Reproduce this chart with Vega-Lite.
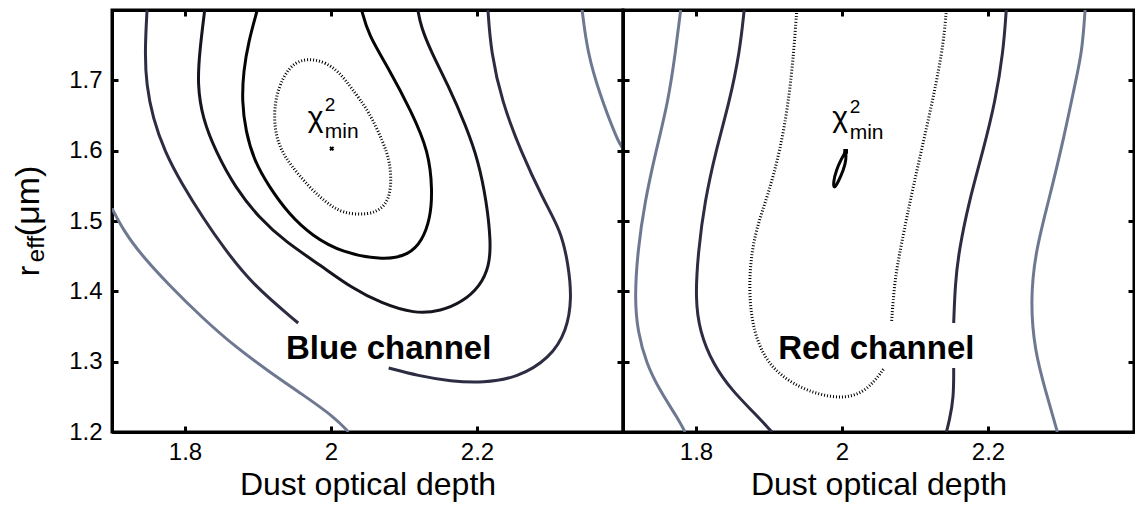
{
  "$schema": "https://vega.github.io/schema/vega-lite/v6.json",
  "background": "white",
  "padding": {"left": 10, "top": 7, "right": 2, "bottom": 2},
  "bounds": "flush",
  "spacing": 0,
  "config": {
    "font": "Liberation Sans",
    "view": {"stroke": "black", "strokeWidth": 3},
    "axis": {
      "domainColor": "black", "domainWidth": 3, "tickColor": "black", "tickWidth": 3, "tickSize": -6,
      "grid": false, "labelColor": "black", "titleColor": "black",
      "labelFont": "Liberation Sans", "titleFont": "Liberation Sans",
      "labelFontSize": 24, "titleFontSize": 32, "titleFontWeight": "normal"
    }
  },
  "datasets": {
    "lines": [
      {"p":"B","s":"g1","l":"L4","o":1,"x":1.70,"y":1.518},
      {"p":"B","s":"g1","l":"L4","o":2,"x":1.716,"y":1.486},
      {"p":"B","s":"g1","l":"L4","o":3,"x":1.740,"y":1.452},
      {"p":"B","s":"g1","l":"L4","o":4,"x":1.779,"y":1.408},
      {"p":"B","s":"g1","l":"L4","o":5,"x":1.824,"y":1.362},
      {"p":"B","s":"g1","l":"L4","o":6,"x":1.869,"y":1.321},
      {"p":"B","s":"g1","l":"L4","o":7,"x":1.915,"y":1.286},
      {"p":"B","s":"g1","l":"L4","o":8,"x":1.960,"y":1.254},
      {"p":"B","s":"g1","l":"L4","o":9,"x":2.005,"y":1.221},
      {"p":"B","s":"g1","l":"L4","o":10,"x":2.024,"y":1.200},
      {"p":"B","s":"g2","l":"L4","o":1,"x":2.344,"y":1.80},
      {"p":"B","s":"g2","l":"L4","o":2,"x":2.351,"y":1.741},
      {"p":"B","s":"g2","l":"L4","o":3,"x":2.368,"y":1.680},
      {"p":"B","s":"g2","l":"L4","o":4,"x":2.393,"y":1.613},
      {"p":"B","s":"g2","l":"L4","o":5,"x":2.40,"y":1.603},
      {"p":"B","s":"c2a","l":"L3","o":1,"x":1.748,"y":1.80},
      {"p":"B","s":"c2a","l":"L3","o":2,"x":1.745,"y":1.741},
      {"p":"B","s":"c2a","l":"L3","o":3,"x":1.747,"y":1.694},
      {"p":"B","s":"c2a","l":"L3","o":4,"x":1.756,"y":1.646},
      {"p":"B","s":"c2a","l":"L3","o":5,"x":1.772,"y":1.599},
      {"p":"B","s":"c2a","l":"L3","o":6,"x":1.796,"y":1.552},
      {"p":"B","s":"c2a","l":"L3","o":7,"x":1.825,"y":1.504},
      {"p":"B","s":"c2a","l":"L3","o":8,"x":1.853,"y":1.462},
      {"p":"B","s":"c2a","l":"L3","o":9,"x":1.892,"y":1.410},
      {"p":"B","s":"c2a","l":"L3","o":10,"x":1.955,"y":1.355},
      {"p":"B","s":"c2b","l":"L3","o":1,"x":2.079,"y":1.291},
      {"p":"B","s":"c2b","l":"L3","o":2,"x":2.119,"y":1.280},
      {"p":"B","s":"c2b","l":"L3","o":3,"x":2.164,"y":1.272},
      {"p":"B","s":"c2b","l":"L3","o":4,"x":2.209,"y":1.270},
      {"p":"B","s":"c2b","l":"L3","o":5,"x":2.255,"y":1.277},
      {"p":"B","s":"c2b","l":"L3","o":6,"x":2.300,"y":1.305},
      {"p":"B","s":"c2b","l":"L3","o":7,"x":2.323,"y":1.344},
      {"p":"B","s":"c2b","l":"L3","o":8,"x":2.330,"y":1.390},
      {"p":"B","s":"c2b","l":"L3","o":9,"x":2.325,"y":1.439},
      {"p":"B","s":"c2b","l":"L3","o":10,"x":2.315,"y":1.486},
      {"p":"B","s":"c2b","l":"L3","o":11,"x":2.291,"y":1.530},
      {"p":"B","s":"c2b","l":"L3","o":12,"x":2.260,"y":1.599},
      {"p":"B","s":"c2b","l":"L3","o":13,"x":2.234,"y":1.670},
      {"p":"B","s":"c2b","l":"L3","o":14,"x":2.219,"y":1.741},
      {"p":"B","s":"c2b","l":"L3","o":15,"x":2.215,"y":1.80},
      {"p":"B","s":"c3","l":"L2","o":1,"x":1.827,"y":1.80},
      {"p":"B","s":"c3","l":"L2","o":2,"x":1.820,"y":1.741},
      {"p":"B","s":"c3","l":"L2","o":3,"x":1.817,"y":1.694},
      {"p":"B","s":"c3","l":"L2","o":4,"x":1.824,"y":1.646},
      {"p":"B","s":"c3","l":"L2","o":5,"x":1.842,"y":1.599},
      {"p":"B","s":"c3","l":"L2","o":6,"x":1.869,"y":1.547},
      {"p":"B","s":"c3","l":"L2","o":7,"x":1.902,"y":1.504},
      {"p":"B","s":"c3","l":"L2","o":8,"x":1.937,"y":1.471},
      {"p":"B","s":"c3","l":"L2","o":9,"x":1.987,"y":1.436},
      {"p":"B","s":"c3","l":"L2","o":10,"x":2.028,"y":1.405},
      {"p":"B","s":"c3","l":"L2","o":11,"x":2.069,"y":1.383},
      {"p":"B","s":"c3","l":"L2","o":12,"x":2.114,"y":1.368},
      {"p":"B","s":"c3","l":"L2","o":13,"x":2.151,"y":1.372},
      {"p":"B","s":"c3","l":"L2","o":14,"x":2.180,"y":1.385},
      {"p":"B","s":"c3","l":"L2","o":15,"x":2.204,"y":1.407},
      {"p":"B","s":"c3","l":"L2","o":16,"x":2.217,"y":1.436},
      {"p":"B","s":"c3","l":"L2","o":17,"x":2.219,"y":1.471},
      {"p":"B","s":"c3","l":"L2","o":18,"x":2.213,"y":1.528},
      {"p":"B","s":"c3","l":"L2","o":19,"x":2.202,"y":1.585},
      {"p":"B","s":"c3","l":"L2","o":20,"x":2.185,"y":1.635},
      {"p":"B","s":"c3","l":"L2","o":21,"x":2.160,"y":1.694},
      {"p":"B","s":"c3","l":"L2","o":22,"x":2.137,"y":1.741},
      {"p":"B","s":"c3","l":"L2","o":23,"x":2.123,"y":1.777},
      {"p":"B","s":"c3","l":"L2","o":24,"x":2.119,"y":1.80},
      {"p":"B","s":"c4","l":"L1","o":1,"x":1.899,"y":1.80},
      {"p":"B","s":"c4","l":"L1","o":2,"x":1.887,"y":1.755},
      {"p":"B","s":"c4","l":"L1","o":3,"x":1.880,"y":1.713},
      {"p":"B","s":"c4","l":"L1","o":4,"x":1.878,"y":1.670},
      {"p":"B","s":"c4","l":"L1","o":5,"x":1.883,"y":1.628},
      {"p":"B","s":"c4","l":"L1","o":6,"x":1.895,"y":1.585},
      {"p":"B","s":"c4","l":"L1","o":7,"x":1.915,"y":1.549},
      {"p":"B","s":"c4","l":"L1","o":8,"x":1.942,"y":1.510},
      {"p":"B","s":"c4","l":"L1","o":9,"x":1.974,"y":1.479},
      {"p":"B","s":"c4","l":"L1","o":10,"x":2.015,"y":1.455},
      {"p":"B","s":"c4","l":"L1","o":11,"x":2.073,"y":1.444},
      {"p":"B","s":"c4","l":"L1","o":12,"x":2.107,"y":1.452},
      {"p":"B","s":"c4","l":"L1","o":13,"x":2.125,"y":1.472},
      {"p":"B","s":"c4","l":"L1","o":14,"x":2.136,"y":1.504},
      {"p":"B","s":"c4","l":"L1","o":15,"x":2.139,"y":1.542},
      {"p":"B","s":"c4","l":"L1","o":16,"x":2.134,"y":1.599},
      {"p":"B","s":"c4","l":"L1","o":17,"x":2.110,"y":1.656},
      {"p":"B","s":"c4","l":"L1","o":18,"x":2.079,"y":1.717},
      {"p":"B","s":"c4","l":"L1","o":19,"x":2.051,"y":1.765},
      {"p":"B","s":"c4","l":"L1","o":20,"x":2.042,"y":1.80},
      {"p":"B","s":"c0","l":"L0","o":1,"x":1.970,"y":1.731},
      {"p":"B","s":"c0","l":"L0","o":2,"x":1.992,"y":1.726},
      {"p":"B","s":"c0","l":"L0","o":3,"x":2.012,"y":1.711},
      {"p":"B","s":"c0","l":"L0","o":4,"x":2.028,"y":1.689},
      {"p":"B","s":"c0","l":"L0","o":5,"x":2.052,"y":1.656},
      {"p":"B","s":"c0","l":"L0","o":6,"x":2.071,"y":1.613},
      {"p":"B","s":"c0","l":"L0","o":7,"x":2.081,"y":1.585},
      {"p":"B","s":"c0","l":"L0","o":8,"x":2.083,"y":1.547},
      {"p":"B","s":"c0","l":"L0","o":9,"x":2.075,"y":1.520},
      {"p":"B","s":"c0","l":"L0","o":10,"x":2.051,"y":1.508},
      {"p":"B","s":"c0","l":"L0","o":11,"x":2.015,"y":1.511},
      {"p":"B","s":"c0","l":"L0","o":12,"x":1.994,"y":1.526},
      {"p":"B","s":"c0","l":"L0","o":13,"x":1.971,"y":1.547},
      {"p":"B","s":"c0","l":"L0","o":14,"x":1.945,"y":1.579},
      {"p":"B","s":"c0","l":"L0","o":15,"x":1.930,"y":1.603},
      {"p":"B","s":"c0","l":"L0","o":16,"x":1.922,"y":1.634},
      {"p":"B","s":"c0","l":"L0","o":17,"x":1.923,"y":1.672},
      {"p":"B","s":"c0","l":"L0","o":18,"x":1.934,"y":1.705},
      {"p":"B","s":"c0","l":"L0","o":19,"x":1.950,"y":1.726},
      {"p":"R","s":"g1","l":"L4","o":1,"x":1.779,"y":1.80},
      {"p":"R","s":"g1","l":"L4","o":2,"x":1.772,"y":1.741},
      {"p":"R","s":"g1","l":"L4","o":3,"x":1.762,"y":1.670},
      {"p":"R","s":"g1","l":"L4","o":4,"x":1.745,"y":1.599},
      {"p":"R","s":"g1","l":"L4","o":5,"x":1.730,"y":1.528},
      {"p":"R","s":"g1","l":"L4","o":6,"x":1.720,"y":1.457},
      {"p":"R","s":"g1","l":"L4","o":7,"x":1.716,"y":1.390},
      {"p":"R","s":"g1","l":"L4","o":8,"x":1.720,"y":1.343},
      {"p":"R","s":"g1","l":"L4","o":9,"x":1.732,"y":1.297},
      {"p":"R","s":"g1","l":"L4","o":10,"x":1.751,"y":1.258},
      {"p":"R","s":"g1","l":"L4","o":11,"x":1.776,"y":1.218},
      {"p":"R","s":"g1","l":"L4","o":12,"x":1.785,"y":1.20},
      {"p":"R","s":"d1","l":"L3","o":1,"x":1.866,"y":1.80},
      {"p":"R","s":"d1","l":"L3","o":2,"x":1.860,"y":1.741},
      {"p":"R","s":"d1","l":"L3","o":3,"x":1.846,"y":1.670},
      {"p":"R","s":"d1","l":"L3","o":4,"x":1.827,"y":1.599},
      {"p":"R","s":"d1","l":"L3","o":5,"x":1.812,"y":1.528},
      {"p":"R","s":"d1","l":"L3","o":6,"x":1.803,"y":1.457},
      {"p":"R","s":"d1","l":"L3","o":7,"x":1.799,"y":1.390},
      {"p":"R","s":"d1","l":"L3","o":8,"x":1.805,"y":1.343},
      {"p":"R","s":"d1","l":"L3","o":9,"x":1.823,"y":1.297},
      {"p":"R","s":"d1","l":"L3","o":10,"x":1.850,"y":1.258},
      {"p":"R","s":"d1","l":"L3","o":11,"x":1.881,"y":1.226},
      {"p":"R","s":"d1","l":"L3","o":12,"x":1.904,"y":1.20},
      {"p":"R","s":"c0a","l":"L0","o":1,"x":1.938,"y":1.80},
      {"p":"R","s":"c0a","l":"L0","o":2,"x":1.934,"y":1.741},
      {"p":"R","s":"c0a","l":"L0","o":3,"x":1.927,"y":1.670},
      {"p":"R","s":"c0a","l":"L0","o":4,"x":1.915,"y":1.599},
      {"p":"R","s":"c0a","l":"L0","o":5,"x":1.899,"y":1.538},
      {"p":"R","s":"c0a","l":"L0","o":6,"x":1.882,"y":1.488},
      {"p":"R","s":"c0a","l":"L0","o":7,"x":1.874,"y":1.439},
      {"p":"R","s":"c0a","l":"L0","o":8,"x":1.873,"y":1.390},
      {"p":"R","s":"c0a","l":"L0","o":9,"x":1.879,"y":1.343},
      {"p":"R","s":"c0a","l":"L0","o":10,"x":1.894,"y":1.305},
      {"p":"R","s":"c0a","l":"L0","o":11,"x":1.916,"y":1.280},
      {"p":"R","s":"c0a","l":"L0","o":12,"x":1.949,"y":1.259},
      {"p":"R","s":"c0a","l":"L0","o":13,"x":1.996,"y":1.246},
      {"p":"R","s":"c0a","l":"L0","o":14,"x":2.033,"y":1.256},
      {"p":"R","s":"c0a","l":"L0","o":15,"x":2.058,"y":1.291},
      {"p":"R","s":"c0b","l":"L0","o":1,"x":2.068,"y":1.358},
      {"p":"R","s":"c0b","l":"L0","o":2,"x":2.072,"y":1.414},
      {"p":"R","s":"c0b","l":"L0","o":3,"x":2.080,"y":1.461},
      {"p":"R","s":"c0b","l":"L0","o":4,"x":2.098,"y":1.552},
      {"p":"R","s":"c0b","l":"L0","o":5,"x":2.119,"y":1.646},
      {"p":"R","s":"c0b","l":"L0","o":6,"x":2.138,"y":1.741},
      {"p":"R","s":"c0b","l":"L0","o":7,"x":2.143,"y":1.80},
      {"p":"R","s":"d2a","l":"L3","o":1,"x":2.225,"y":1.80},
      {"p":"R","s":"d2a","l":"L3","o":2,"x":2.221,"y":1.741},
      {"p":"R","s":"d2a","l":"L3","o":3,"x":2.210,"y":1.670},
      {"p":"R","s":"d2a","l":"L3","o":4,"x":2.193,"y":1.599},
      {"p":"R","s":"d2a","l":"L3","o":5,"x":2.174,"y":1.528},
      {"p":"R","s":"d2a","l":"L3","o":6,"x":2.160,"y":1.457},
      {"p":"R","s":"d2a","l":"L3","o":7,"x":2.155,"y":1.410},
      {"p":"R","s":"d2a","l":"L3","o":8,"x":2.153,"y":1.355},
      {"p":"R","s":"d2b","l":"L3","o":1,"x":2.153,"y":1.291},
      {"p":"R","s":"d2b","l":"L3","o":2,"x":2.153,"y":1.248},
      {"p":"R","s":"d2b","l":"L3","o":3,"x":2.147,"y":1.216},
      {"p":"R","s":"d2b","l":"L3","o":4,"x":2.143,"y":1.20},
      {"p":"R","s":"g2","l":"L4","o":1,"x":2.333,"y":1.80},
      {"p":"R","s":"g2","l":"L4","o":2,"x":2.329,"y":1.741},
      {"p":"R","s":"g2","l":"L4","o":3,"x":2.319,"y":1.694},
      {"p":"R","s":"g2","l":"L4","o":4,"x":2.305,"y":1.623},
      {"p":"R","s":"g2","l":"L4","o":5,"x":2.283,"y":1.528},
      {"p":"R","s":"g2","l":"L4","o":6,"x":2.265,"y":1.457},
      {"p":"R","s":"g2","l":"L4","o":7,"x":2.258,"y":1.386},
      {"p":"R","s":"g2","l":"L4","o":8,"x":2.264,"y":1.315},
      {"p":"R","s":"g2","l":"L4","o":9,"x":2.279,"y":1.258},
      {"p":"R","s":"g2","l":"L4","o":10,"x":2.295,"y":1.20},
      {"p":"R","s":"m","l":"L1","o":1,"x":2.005,"y":1.599},
      {"p":"R","s":"m","l":"L1","o":2,"x":2.006,"y":1.588},
      {"p":"R","s":"m","l":"L1","o":3,"x":2.002,"y":1.572},
      {"p":"R","s":"m","l":"L1","o":4,"x":1.995,"y":1.556},
      {"p":"R","s":"m","l":"L1","o":5,"x":1.989,"y":1.545},
      {"p":"R","s":"m","l":"L1","o":6,"x":1.988,"y":1.555},
      {"p":"R","s":"m","l":"L1","o":7,"x":1.992,"y":1.572},
      {"p":"R","s":"m","l":"L1","o":8,"x":1.999,"y":1.588},
      {"p":"R","s":"m","l":"L1","o":9,"x":2.005,"y":1.599}
    ],
    "marks": [
      {"p":"B","x":2.001,"y":1.603},
      {"p":"R","x":2.005,"y":1.599}
    ],
    "notes": [
      {"p":"B","k":"chi","x":1.968,"y":1.634,"t":"χ"},
      {"p":"B","k":"sup","x":1.9914,"y":1.656,"t":"2"},
      {"p":"B","k":"sub","x":1.9914,"y":1.6176,"t":"min"},
      {"p":"R","k":"chi","x":1.9867,"y":1.633,"t":"χ"},
      {"p":"R","k":"sup","x":2.0105,"y":1.653,"t":"2"},
      {"p":"R","k":"sub","x":2.0105,"y":1.616,"t":"min"},
      {"p":"B","k":"label","x":2.079,"y":1.304,"t":"Blue channel"},
      {"p":"R","k":"label","x":2.047,"y":1.304,"t":"Red channel"},
      {"p":"B","k":"yr","x":1.5996,"y":1.4216,"t":"r"},
      {"p":"B","k":"yeff","x":1.5996,"y":1.4415,"t":"eff"},
      {"p":"B","k":"yunit","x":1.5996,"y":1.4784,"t":"(μm)"}
    ]
  },
  "hconcat": [
    {
      "width": 511, "height": 422,
      "resolve": {"axis": {"x": "independent", "y": "independent"}},
      "layer": [
        {
          "data": {"name": "lines"},
          "transform": [{"filter": "datum.p === 'B' && datum.l !== 'L0'"}],
          "mark": {"type": "line", "interpolate": "basis", "strokeWidth": 3, "clip": true},
          "encoding": {
            "x": {"field": "x", "type": "quantitative", "scale": {"domain": [1.7, 2.4], "nice": false, "zero": false},
                  "axis": {"orient": "bottom", "values": [1.8, 2, 2.2], "format": "~g", "title": "Dust optical depth", "labelPadding": 14, "titlePadding": 5, "labelFlush": false}},
            "y": {"field": "y", "type": "quantitative", "scale": {"domain": [1.2, 1.8], "nice": false, "zero": false},
                  "axis": {"orient": "left", "values": [1.2, 1.3, 1.4, 1.5, 1.6, 1.7], "format": ".1f", "title": null, "labelPadding": 16}},
            "color": {"field": "l", "type": "nominal", "scale": {"domain": ["L0", "L1", "L2", "L3", "L4"], "range": ["#000000", "#050505", "#15151d", "#2c2c42", "#6e7891"]}, "legend": null},
            "detail": {"field": "s"},
            "order": {"field": "o", "type": "quantitative"}
          }
        },
        {
          "data": {"name": "lines"},
          "transform": [{"filter": "datum.p === 'B' && datum.l === 'L0'"}],
          "mark": {"type": "line", "interpolate": "basis-closed", "strokeWidth": 3, "strokeDash": [1, 2], "color": "black", "clip": true},
          "encoding": {
            "x": {"field": "x", "type": "quantitative", "scale": {"domain": [1.7, 2.4], "nice": false, "zero": false},
                  "axis": {"orient": "top", "values": [1.8, 2, 2.2], "labels": false, "title": null}},
            "y": {"field": "y", "type": "quantitative", "scale": {"domain": [1.2, 1.8], "nice": false, "zero": false},
                  "axis": {"orient": "right", "values": [1.2, 1.3, 1.4, 1.5, 1.6, 1.7], "labels": false, "title": null}},
            "detail": {"field": "s"},
            "order": {"field": "o", "type": "quantitative"}
          }
        },
        {
          "data": {"name": "marks"},
          "transform": [{"filter": "datum.p === 'B'"}],
          "mark": {"type": "point", "shape": "cross", "angle": 45, "size": 24, "filled": true, "color": "black", "opacity": 1},
          "encoding": {
            "x": {"field": "x", "type": "quantitative", "scale": {"domain": [1.7, 2.4], "nice": false, "zero": false}, "axis": null},
            "y": {"field": "y", "type": "quantitative", "scale": {"domain": [1.2, 1.8], "nice": false, "zero": false}, "axis": null}
          }
        },
        {
          "data": {"name": "notes"},
          "transform": [{"filter": "datum.p === 'B' && datum.k === 'chi'"}],
          "mark": {"type": "text", "fontSize": 30, "align": "left", "baseline": "alphabetic", "color": "black"},
          "encoding": {
            "x": {"field": "x", "type": "quantitative", "scale": {"domain": [1.7, 2.4], "nice": false, "zero": false}, "axis": null},
            "y": {"field": "y", "type": "quantitative", "scale": {"domain": [1.2, 1.8], "nice": false, "zero": false}, "axis": null},
            "text": {"field": "t"}
          }
        },
        {
          "data": {"name": "notes"},
          "transform": [{"filter": "datum.p === 'B' && datum.k === 'sup'"}],
          "mark": {"type": "text", "fontSize": 19, "align": "left", "baseline": "alphabetic", "color": "black"},
          "encoding": {
            "x": {"field": "x", "type": "quantitative", "scale": {"domain": [1.7, 2.4], "nice": false, "zero": false}, "axis": null},
            "y": {"field": "y", "type": "quantitative", "scale": {"domain": [1.2, 1.8], "nice": false, "zero": false}, "axis": null},
            "text": {"field": "t"}
          }
        },
        {
          "data": {"name": "notes"},
          "transform": [{"filter": "datum.p === 'B' && datum.k === 'sub'"}],
          "mark": {"type": "text", "fontSize": 21, "align": "left", "baseline": "alphabetic", "color": "black"},
          "encoding": {
            "x": {"field": "x", "type": "quantitative", "scale": {"domain": [1.7, 2.4], "nice": false, "zero": false}, "axis": null},
            "y": {"field": "y", "type": "quantitative", "scale": {"domain": [1.2, 1.8], "nice": false, "zero": false}, "axis": null},
            "text": {"field": "t"}
          }
        },
        {
          "data": {"name": "notes"},
          "transform": [{"filter": "datum.p === 'B' && datum.k === 'label'"}],
          "mark": {"type": "text", "fontSize": 33, "fontWeight": "bold", "align": "center", "baseline": "alphabetic", "color": "black"},
          "encoding": {
            "x": {"field": "x", "type": "quantitative", "scale": {"domain": [1.7, 2.4], "nice": false, "zero": false}, "axis": null},
            "y": {"field": "y", "type": "quantitative", "scale": {"domain": [1.2, 1.8], "nice": false, "zero": false}, "axis": null},
            "text": {"field": "t"}
          }
        },
        {
          "data": {"name": "notes"},
          "transform": [{"filter": "datum.p === 'B' && datum.k === 'yr'"}],
          "mark": {"type": "text", "fontSize": 32, "angle": 270, "align": "left", "baseline": "alphabetic", "color": "black"},
          "encoding": {
            "x": {"field": "x", "type": "quantitative", "scale": {"domain": [1.7, 2.4], "nice": false, "zero": false}, "axis": null},
            "y": {"field": "y", "type": "quantitative", "scale": {"domain": [1.2, 1.8], "nice": false, "zero": false}, "axis": null},
            "text": {"field": "t"}
          }
        },
        {
          "data": {"name": "notes"},
          "transform": [{"filter": "datum.p === 'B' && datum.k === 'yunit'"}],
          "mark": {"type": "text", "fontSize": 34, "angle": 270, "align": "left", "baseline": "alphabetic", "color": "black"},
          "encoding": {
            "x": {"field": "x", "type": "quantitative", "scale": {"domain": [1.7, 2.4], "nice": false, "zero": false}, "axis": null},
            "y": {"field": "y", "type": "quantitative", "scale": {"domain": [1.2, 1.8], "nice": false, "zero": false}, "axis": null},
            "text": {"field": "t"}
          }
        },
        {
          "data": {"name": "notes"},
          "transform": [{"filter": "datum.p === 'B' && datum.k === 'yeff'"}],
          "mark": {"type": "text", "fontSize": 24, "angle": 270, "align": "left", "baseline": "alphabetic", "dy": 5, "color": "black"},
          "encoding": {
            "x": {"field": "x", "type": "quantitative", "scale": {"domain": [1.7, 2.4], "nice": false, "zero": false}, "axis": null},
            "y": {"field": "y", "type": "quantitative", "scale": {"domain": [1.2, 1.8], "nice": false, "zero": false}, "axis": null},
            "text": {"field": "t"}
          }
        }
      ]
    },
    {
      "width": 511, "height": 422,
      "resolve": {"axis": {"x": "independent", "y": "independent"}},
      "layer": [
        {
          "data": {"name": "lines"},
          "transform": [{"filter": "datum.p === 'R' && datum.l !== 'L0'"}],
          "mark": {"type": "line", "interpolate": "basis", "strokeWidth": 3, "clip": true},
          "encoding": {
            "x": {"field": "x", "type": "quantitative", "scale": {"domain": [1.7, 2.4], "nice": false, "zero": false},
                  "axis": {"orient": "bottom", "values": [1.8, 2, 2.2], "format": "~g", "title": "Dust optical depth", "labelPadding": 14, "titlePadding": 5, "labelFlush": false}},
            "y": {"field": "y", "type": "quantitative", "scale": {"domain": [1.2, 1.8], "nice": false, "zero": false},
                  "axis": {"orient": "left", "values": [1.2, 1.3, 1.4, 1.5, 1.6, 1.7], "labels": false, "title": null}},
            "color": {"field": "l", "type": "nominal", "scale": {"domain": ["L0", "L1", "L2", "L3", "L4"], "range": ["#000000", "#050505", "#15151d", "#2c2c42", "#6e7891"]}, "legend": null},
            "detail": {"field": "s"},
            "order": {"field": "o", "type": "quantitative"}
          }
        },
        {
          "data": {"name": "lines"},
          "transform": [{"filter": "datum.p === 'R' && datum.l === 'L0'"}],
          "mark": {"type": "line", "interpolate": "basis", "strokeWidth": 3, "strokeDash": [1, 2], "color": "black", "clip": true},
          "encoding": {
            "x": {"field": "x", "type": "quantitative", "scale": {"domain": [1.7, 2.4], "nice": false, "zero": false},
                  "axis": {"orient": "top", "values": [1.8, 2, 2.2], "labels": false, "title": null}},
            "y": {"field": "y", "type": "quantitative", "scale": {"domain": [1.2, 1.8], "nice": false, "zero": false},
                  "axis": {"orient": "right", "values": [1.2, 1.3, 1.4, 1.5, 1.6, 1.7], "labels": false, "title": null}},
            "detail": {"field": "s"},
            "order": {"field": "o", "type": "quantitative"}
          }
        },
        {
          "data": {"name": "marks"},
          "transform": [{"filter": "datum.p === 'R'"}],
          "mark": {"type": "point", "shape": "square", "size": 22, "filled": true, "color": "black", "opacity": 1},
          "encoding": {
            "x": {"field": "x", "type": "quantitative", "scale": {"domain": [1.7, 2.4], "nice": false, "zero": false}, "axis": null},
            "y": {"field": "y", "type": "quantitative", "scale": {"domain": [1.2, 1.8], "nice": false, "zero": false}, "axis": null}
          }
        },
        {
          "data": {"name": "notes"},
          "transform": [{"filter": "datum.p === 'R' && datum.k === 'chi'"}],
          "mark": {"type": "text", "fontSize": 30, "align": "left", "baseline": "alphabetic", "color": "black"},
          "encoding": {
            "x": {"field": "x", "type": "quantitative", "scale": {"domain": [1.7, 2.4], "nice": false, "zero": false}, "axis": null},
            "y": {"field": "y", "type": "quantitative", "scale": {"domain": [1.2, 1.8], "nice": false, "zero": false}, "axis": null},
            "text": {"field": "t"}
          }
        },
        {
          "data": {"name": "notes"},
          "transform": [{"filter": "datum.p === 'R' && datum.k === 'sup'"}],
          "mark": {"type": "text", "fontSize": 19, "align": "left", "baseline": "alphabetic", "color": "black"},
          "encoding": {
            "x": {"field": "x", "type": "quantitative", "scale": {"domain": [1.7, 2.4], "nice": false, "zero": false}, "axis": null},
            "y": {"field": "y", "type": "quantitative", "scale": {"domain": [1.2, 1.8], "nice": false, "zero": false}, "axis": null},
            "text": {"field": "t"}
          }
        },
        {
          "data": {"name": "notes"},
          "transform": [{"filter": "datum.p === 'R' && datum.k === 'sub'"}],
          "mark": {"type": "text", "fontSize": 21, "align": "left", "baseline": "alphabetic", "color": "black"},
          "encoding": {
            "x": {"field": "x", "type": "quantitative", "scale": {"domain": [1.7, 2.4], "nice": false, "zero": false}, "axis": null},
            "y": {"field": "y", "type": "quantitative", "scale": {"domain": [1.2, 1.8], "nice": false, "zero": false}, "axis": null},
            "text": {"field": "t"}
          }
        },
        {
          "data": {"name": "notes"},
          "transform": [{"filter": "datum.p === 'R' && datum.k === 'label'"}],
          "mark": {"type": "text", "fontSize": 33, "fontWeight": "bold", "align": "center", "baseline": "alphabetic", "color": "black"},
          "encoding": {
            "x": {"field": "x", "type": "quantitative", "scale": {"domain": [1.7, 2.4], "nice": false, "zero": false}, "axis": null},
            "y": {"field": "y", "type": "quantitative", "scale": {"domain": [1.2, 1.8], "nice": false, "zero": false}, "axis": null},
            "text": {"field": "t"}
          }
        }
      ]
    }
  ]
}
